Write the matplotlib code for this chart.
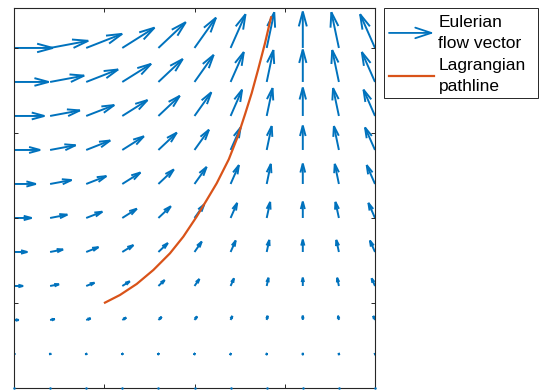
import numpy as np
import matplotlib
matplotlib.use("Agg")
import matplotlib.pyplot as plt
from matplotlib.patches import FancyArrowPatch, Rectangle
from matplotlib.lines import Line2D
from matplotlib.legend_handler import HandlerBase

# ---------------- data ----------------
x_grid = [0.0, 0.2, 0.4, 0.6, 0.8, 1.0, 1.2, 1.4, 1.6, 1.8, 2.0]
y_grid = [0.0, 0.2, 0.4, 0.6, 0.8, 1.0, 1.2, 1.4, 1.6, 1.8, 2.0]

# U[i][j], V[i][j]: flow vector at (x_grid[j], y_grid[i])
U = [
    [0.00, 0.00, 0.00, 0.00, 0.00, 0.00, 0.00, 0.00, 0.00, 0.00, 0.00],
    [0.20, 0.20, 0.18, 0.17, 0.14, 0.11, 0.08, 0.04, 0.00, -0.04, -0.08],
    [0.40, 0.39, 0.37, 0.33, 0.28, 0.22, 0.15, 0.08, 0.00, -0.08, -0.15],
    [0.60, 0.59, 0.55, 0.50, 0.42, 0.33, 0.23, 0.12, 0.00, -0.12, -0.23],
    [0.80, 0.78, 0.74, 0.67, 0.57, 0.44, 0.31, 0.16, 0.00, -0.16, -0.31],
    [1.00, 0.98, 0.92, 0.83, 0.71, 0.56, 0.38, 0.20, 0.00, -0.20, -0.38],
    [1.20, 1.18, 1.11, 1.00, 0.85, 0.67, 0.46, 0.23, 0.00, -0.23, -0.46],
    [1.40, 1.37, 1.29, 1.16, 0.99, 0.78, 0.54, 0.27, 0.00, -0.27, -0.54],
    [1.60, 1.57, 1.48, 1.33, 1.13, 0.89, 0.61, 0.31, 0.00, -0.31, -0.61],
    [1.80, 1.77, 1.66, 1.50, 1.27, 1.00, 0.69, 0.35, 0.00, -0.35, -0.69],
    [2.00, 1.96, 1.85, 1.66, 1.41, 1.11, 0.77, 0.39, 0.00, -0.39, -0.77],
]
V = [
    [0.00, 0.00, 0.00, 0.00, 0.00, 0.00, 0.00, 0.00, 0.00, 0.00, 0.00],
    [0.00, 0.04, 0.08, 0.11, 0.14, 0.17, 0.18, 0.20, 0.20, 0.20, 0.18],
    [0.00, 0.08, 0.15, 0.22, 0.28, 0.33, 0.37, 0.39, 0.40, 0.39, 0.37],
    [0.00, 0.12, 0.23, 0.33, 0.42, 0.50, 0.55, 0.59, 0.60, 0.59, 0.55],
    [0.00, 0.16, 0.31, 0.44, 0.57, 0.67, 0.74, 0.78, 0.80, 0.78, 0.74],
    [0.00, 0.20, 0.38, 0.56, 0.71, 0.83, 0.92, 0.98, 1.00, 0.98, 0.92],
    [0.00, 0.23, 0.46, 0.67, 0.85, 1.00, 1.11, 1.18, 1.20, 1.18, 1.11],
    [0.00, 0.27, 0.54, 0.78, 0.99, 1.16, 1.29, 1.37, 1.40, 1.37, 1.29],
    [0.00, 0.31, 0.61, 0.89, 1.13, 1.33, 1.48, 1.57, 1.60, 1.57, 1.48],
    [0.00, 0.35, 0.69, 1.00, 1.27, 1.50, 1.66, 1.77, 1.80, 1.77, 1.66],
    [0.00, 0.39, 0.77, 1.11, 1.41, 1.66, 1.85, 1.96, 2.00, 1.96, 1.85],
]

path_x = [0.504, 0.587, 0.680, 0.772, 0.864, 0.938, 1.012, 1.068, 1.123,
          1.190, 1.240, 1.280, 1.317, 1.353, 1.391, 1.424]
path_y = [0.502, 0.547, 0.612, 0.694, 0.792, 0.890, 1.008, 1.106, 1.204,
          1.345, 1.480, 1.610, 1.735, 1.875, 2.030, 2.180]

x_ticks = [0.0, 0.5, 1.0, 1.5, 2.0]
y_ticks = [0.0, 0.5, 1.0, 1.5, 2.0]
legend_labels = ["Eulerian\nflow vector", "Lagrangian\npathline"]

# ---------------- style ----------------
BLUE = "#0072BD"
ORANGE = "#D95319"
AXC = "#262626"
ARROW_SCALE = 0.118
FONT = "Liberation Sans"

W, H = 539, 391
fig = plt.figure(figsize=(W / 100, H / 100), dpi=100)
ax = fig.add_axes([14 / W, 3 / H, 361 / W, 380 / H])
ax.set_xlim(0, 2)
ax.set_ylim(0, 2.235)
ax.set_xticks(x_ticks)
ax.set_yticks(y_ticks)
ax.set_xticklabels([])
ax.set_yticklabels([])
ax.tick_params(direction="in", length=3, width=0.7, color=AXC,
               top=True, right=True)
for sp in ax.spines.values():
    sp.set_color(AXC)
    sp.set_linewidth(0.8)

px_per_pt = 100 / 72
for i, yv in enumerate(y_grid):
    for j, xv in enumerate(x_grid):
        u = U[i][j] * ARROW_SCALE
        v = V[i][j] * ARROW_SCALE
        p0 = ax.transData.transform((xv, yv))
        p1 = ax.transData.transform((xv + u, yv + v))
        L = np.hypot(*(p1 - p0)) / px_per_pt
        if L < 0.5:
            ax.plot([xv], [yv], marker="o", ms=1.8, color=BLUE, mew=0,
                    clip_on=False, zorder=3)
            continue
        style = f"->,head_length={0.37 * L:.3f},head_width={0.10 * L:.3f}"
        arr = FancyArrowPatch((xv, yv), (xv + u, yv + v), arrowstyle=style,
                              mutation_scale=1, lw=1.4, color=BLUE,
                              shrinkA=0, shrinkB=0, joinstyle="miter",
                              capstyle="butt")
        ax.add_patch(arr)

path_line, = ax.plot(path_x, path_y, color=ORANGE, lw=1.6, zorder=4,
                     solid_joinstyle="round")


class HandlerArrow(HandlerBase):
    def create_artists(self, legend, orig_handle, xdescent, ydescent,
                       width, height, fontsize, trans):
        y = height / 2 - ydescent
        a = FancyArrowPatch((-xdescent, y), (-xdescent + width, y),
                            arrowstyle="->,head_length=11.5,head_width=3.8",
                            mutation_scale=1, lw=1.3, color=BLUE,
                            shrinkA=0, shrinkB=0, transform=trans)
        return [a]


arrow_proxy = Line2D([], [], color=BLUE)
leg = fig.legend([arrow_proxy, path_line], legend_labels,
                 handler_map={arrow_proxy: HandlerArrow()},
                 loc="upper left", bbox_to_anchor=(389 / W, 1 - 15 / H),
                 bbox_transform=fig.transFigure, borderpad=0,
                 borderaxespad=0, frameon=False, handlelength=2.6,
                 handletextpad=0.25, labelspacing=0.43,
                 prop={"family": FONT, "size": 12.5})
for t in leg.get_texts():
    t.set_linespacing(1.5)

fig.patches.append(Rectangle((384 / W, 1 - 98 / H), (538 - 384) / W, 90 / H,
                             transform=fig.transFigure, fill=False,
                             ec=AXC, lw=0.7))

fig.savefig("out.png", dpi=100)
